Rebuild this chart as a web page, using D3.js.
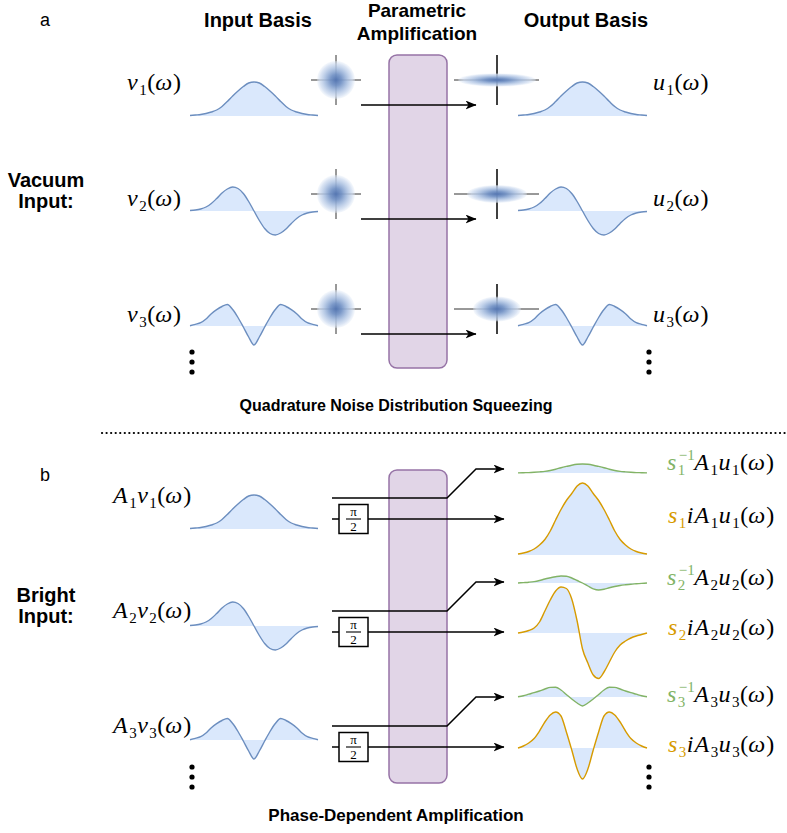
<!DOCTYPE html>
<html>
<head>
<meta charset="utf-8">
<script src="https://cdn.jsdelivr.net/npm/d3@7"></script>
<style>
  body { margin: 0; background: #fff; }
  svg { display: block; }
</style>
</head>
<body>
<script>
// Frequency grid shared by every spectral mode
const omega = [-3, -2.75, -2.5, -2.25, -2, -1.75, -1.5, -1.25, -1, -0.75, -0.5, -0.25, 0,
               0.25, 0.5, 0.75, 1, 1.25, 1.5, 1.75, 2, 2.25, 2.5, 2.75, 3];

// Input / output basis modes (amplitude, arbitrary units)
const mode1 = [0.5, 1, 1.5, 2.5, 4, 6, 9.5, 14.5, 20, 25, 29.5, 33, 34, 33, 29.5, 25, 20, 14.5, 9.5, 6, 4, 2.5, 1.5, 1, 0.5];
const mode2 = [0.5, 1, 2, 4, 7.5, 12.5, 18, 22, 24, 22.5, 17.5, 9.5, 0, -9.5, -17.5, -22.5, -24, -22, -18, -12.5, -7.5, -4, -2, -1, -0.5];
const mode3 = [0.3, 1.7, 3.3, 7, 12.3, 16.3, 19.5, 21.5, 16.5, 8.5, -1, -11, -19, -11, -1, 8.5, 16.5, 21.5, 19.5, 16.3, 12.3, 7, 3.3, 1.7, 0.3];

// Bright input: de-amplified quadrature (s^-1) and amplified quadrature (s)
const deamp1 = [0.1, 0.3, 0.4, 0.7, 1.1, 1.6, 2.5, 3.8, 5.3, 6.6, 7.8, 8.7, 9, 8.7, 7.8, 6.6, 5.3, 3.8, 2.5, 1.6, 1.1, 0.7, 0.4, 0.3, 0.1];
const deamp2 = [0, 0.4, 0.8, 1.4, 2.5, 4, 5.2, 6.3, 7, 6.8, 5, 2.5, 0, -3, -5.8, -7, -6.3, -4.8, -3.5, -2.5, -1.8, -1.2, -0.8, -0.4, 0];
const deamp3 = [0.3, 1.2, 2.8, 4.3, 6, 8, 9.6, 9.8, 7, 2.5, -2, -6, -9, -6, -2, 2.5, 7, 9.8, 9.6, 8, 6, 4.3, 2.8, 1.2, 0.3];
const amp1 = [1, 2, 3.5, 6, 10, 15.5, 24, 35, 45.5, 54.5, 61.5, 69, 72, 69, 61.5, 54.5, 45.5, 35, 24, 15.5, 10, 6, 3.5, 2, 1];
const amp2 = [0, 1, 2.5, 5, 11, 22, 33, 42, 46, 44.5, 34, 12, -16, -30, -42, -45.5, -39, -29, -19, -12, -8, -5, -3, -1.5, 0];
const amp3 = [0, 2, 5, 9.5, 17, 26, 33, 36, 32, 16, -2, -21, -31, -21, -2, 16, 32, 36, 33, 26, 17, 9.5, 5, 2, 0];

// Quadrature noise widths after squeezing, relative to vacuum
const squeezeWidth = [2.05, 1.58, 1.26];
const squeezeHeight = [0.35, 0.47, 0.66];

// Text
const headers = ["Input Basis", "Output Basis"];
const ampHeader = ["Parametric", "Amplification"];
const captionA = "Quadrature Noise Distribution Squeezing";
const captionB = "Phase-Dependent Amplification";

const W = 787, H = 833;
const BLUE = "#6c8ebf", FILL = "#dae8fc", GREEN = "#82b366", ORANGE = "#d79b00";
const SANS = "'Liberation Sans', Arial, Helvetica, sans-serif";
const SERIF = "'Liberation Serif', 'Times New Roman', serif";

const svg = d3.select("body").append("svg").attr("width", W).attr("height", H);
const defs = svg.append("defs");

// soft Gaussian-looking noise blob
const grad = defs.append("radialGradient").attr("id", "noise");
[[0, "#5677b2", 1], [0.3, "#7594c6", 0.95], [0.6, "#a9bfe0", 0.88], [0.85, "#cfdcf0", 0.75], [1, "#e2ebf7", 0.35]]
  .forEach(([o, c, a]) => grad.append("stop").attr("offset", o).attr("stop-color", c).attr("stop-opacity", a));

defs.append("marker").attr("id", "arrow").attr("viewBox", "0 0 11 9")
  .attr("refX", 10.5).attr("refY", 4.5).attr("markerWidth", 11).attr("markerHeight", 9)
  .attr("markerUnits", "userSpaceOnUse").attr("orient", "auto")
  .append("path").attr("d", "M0,0 L11,4.5 L0,9 L3,4.5 Z").attr("fill", "#000");

// ---------- helpers ----------
function drawMode(values, x0, x1, base, stroke) {
  const x = d3.scaleLinear().domain(d3.extent(omega)).range([x0, x1]);
  const y = d3.scaleLinear().domain([0, 10]).range([base, base - 10]);
  const pts = omega.map((w, i) => [w, values[i]]);
  svg.append("path").datum(pts)
    .attr("d", d3.area().x(d => x(d[0])).y0(y(0)).y1(d => y(d[1])).curve(d3.curveMonotoneX))
    .attr("fill", FILL);
  svg.append("path").datum(pts)
    .attr("d", d3.line().x(d => x(d[0])).y(d => y(d[1])).curve(d3.curveMonotoneX))
    .attr("fill", "none").attr("stroke", stroke).attr("stroke-width", 1.4);
}

// Lays out a formula from tokens, measuring each piece as it goes
function formula(x, y, tokens) {
  const g = svg.append("g").attr("transform", `translate(${x},0)`);
  let cx = 0;
  const put = (s, px, py, size, italic, color) => {
    const t = g.append("text").attr("x", px).attr("y", py).text(s)
      .style("font-family", SERIF).style("font-size", size + "px")
      .style("font-style", italic ? "italic" : "normal").attr("fill", color || "#000");
    return t.node().getComputedTextLength();
  };
  tokens.forEach(tk => {
    if (tk.sub !== undefined || tk.sup !== undefined) {
      let w = 0;
      if (tk.sup !== undefined) w = Math.max(w, put(tk.sup, cx + 1.5, y - 10, 15, false, tk.color));
      if (tk.sub !== undefined) w = Math.max(w, put(tk.sub, cx + 0.5, y + 5, 15, false, tk.color));
      cx += w + 1;
    } else {
      cx += put(tk.t, cx, y, 24, tk.it, tk.color) + (tk.it ? 1 : 0);
    }
  });
  return g;
}
const fn = (sym, n) => [{ t: sym, it: true }, { sub: String(n) }, { t: "(" }, { t: "ω", it: true }, { t: ")" }];

function boldText(s, x, y, size, anchor) {
  svg.append("text").attr("x", x).attr("y", y).text(s)
    .style("font-family", SANS).style("font-weight", "bold").style("font-size", size + "px")
    .attr("text-anchor", anchor || "middle");
}
function vdots(x, y) {
  [0, 10, 20].forEach(d => svg.append("circle").attr("cx", x).attr("cy", y + d).attr("r", 2.6).attr("fill", "#000"));
}
function pumpBox(y0, y1) {
  svg.append("rect").attr("x", 389).attr("y", y0).attr("width", 58).attr("height", y1 - y0)
    .attr("rx", 8).attr("fill", "#e1d5e7").attr("stroke", "#9673a6").attr("stroke-width", 1.5);
}
function noise(cx, cy, sx, sy, hx0, hx1, output) {
  const r = 19;
  svg.append("line").attr("x1", hx0).attr("x2", hx1).attr("y1", cy).attr("y2", cy)
    .attr("stroke", "#333").attr("stroke-width", 1);
  svg.append("line").attr("x1", cx).attr("x2", cx).attr("y1", cy - 25).attr("y2", cy + 25)
    .attr("stroke", output ? "#000" : "#333").attr("stroke-width", output ? 1.5 : 1);
  svg.append("ellipse").attr("cx", cx).attr("cy", cy).attr("rx", r * sx).attr("ry", r * sy)
    .attr("fill", "url(#noise)");
}
const modes = [mode1, mode2, mode3];

// ---------- panel a ----------
svg.append("text").attr("x", 45).attr("y", 26).text("a")
  .style("font-family", SANS).style("font-size", "18px").attr("text-anchor", "middle");
boldText(headers[0], 258, 27, 20);
boldText(ampHeader[0], 417, 17, 19);
boldText(ampHeader[1], 417, 40, 19);
boldText(headers[1], 586, 27, 20);
boldText("Vacuum", 46, 187, 20);
boldText("Input:", 46, 208, 20);

pumpBox(55, 368);
const rowA = [
  { cy: 80, base: 116, label: 90 },
  { cy: 194, base: 211, label: 206 },
  { cy: 309, base: 326, label: 322 }
];
rowA.forEach((r, i) => {
  formula(127, r.label, fn("v", i + 1));
  formula(653, r.label, fn("u", i + 1));
  drawMode(modes[i], 190, 318, r.base, BLUE);
  drawMode(modes[i], 518, 647, r.base, BLUE);
  noise(336, r.cy, 1, 1, 311, 361, false);
  noise(497, r.cy, squeezeWidth[i], squeezeHeight[i], 454, 539, true);
  svg.append("line").attr("x1", 361).attr("x2", 476).attr("y1", r.cy + 25).attr("y2", r.cy + 25)
    .attr("stroke", "#000").attr("stroke-width", 1.5).attr("marker-end", "url(#arrow)");
});
vdots(192, 352);
vdots(649, 352);
boldText(captionA, 396, 411, 16);

svg.append("line").attr("x1", 102).attr("x2", 785).attr("y1", 433).attr("y2", 433)
  .attr("stroke", "#000").attr("stroke-width", 2.2).attr("stroke-linecap", "round")
  .attr("stroke-dasharray", "0.1,4.45");

// ---------- panel b ----------
svg.append("text").attr("x", 45).attr("y", 481).text("b")
  .style("font-family", SANS).style("font-size", "18px").attr("text-anchor", "middle");
boldText("Bright", 46, 602, 20);
boldText("Input:", 46, 623, 20);

pumpBox(470, 783);
const deamps = [deamp1, deamp2, deamp3], amps = [amp1, amp2, amp3];
const rowB = [
  { top: 498, inBase: 529, label: 503, gBase: 473, oBase: 555, gLab: 470, oLab: 523 },
  { top: 611, inBase: 626, label: 618, gBase: 583, oBase: 633, gLab: 585, oLab: 635 },
  { top: 726, inBase: 740, label: 733, gBase: 697, oBase: 748, gLab: 702, oLab: 752 }
];
rowB.forEach((r, i) => {
  const n = String(i + 1);
  const low = r.top + 21;
  formula(113, r.label, [{ t: "A", it: true }, { sub: n }, ...fn("v", n)]);
  drawMode(modes[i], 190, 318, r.inBase, BLUE);
  drawMode(deamps[i], 518, 647, r.gBase, GREEN);
  drawMode(amps[i], 518, 647, r.oBase, ORANGE);

  // undelayed path: folds up to the de-amplified quadrature
  svg.append("path").attr("d", `M332,${r.top} H447 L476,${r.top - 29} H504`)
    .attr("fill", "none").attr("stroke", "#000").attr("stroke-width", 1.5).attr("marker-end", "url(#arrow)");
  // path through the π/2 phase shifter
  svg.append("line").attr("x1", 332).attr("x2", 504).attr("y1", low).attr("y2", low)
    .attr("stroke", "#000").attr("stroke-width", 1.5).attr("marker-end", "url(#arrow)");
  svg.append("rect").attr("x", 339).attr("y", low - 14.5).attr("width", 29).attr("height", 29)
    .attr("fill", "#fff").attr("stroke", "#000").attr("stroke-width", 1.5);
  svg.append("text").attr("x", 353.5).attr("y", low - 3).text("π").attr("text-anchor", "middle")
    .style("font-family", SERIF).style("font-size", "13px");
  svg.append("line").attr("x1", 346).attr("x2", 361).attr("y1", low).attr("y2", low)
    .attr("stroke", "#000").attr("stroke-width", 1.1);
  svg.append("text").attr("x", 353.5).attr("y", low + 11.5).text("2").attr("text-anchor", "middle")
    .style("font-family", SERIF).style("font-size", "13px");

  formula(667, r.gLab, [{ t: "s", it: true, color: GREEN }, { sup: "−1", sub: n, color: GREEN },
    { t: "A", it: true }, { sub: n }, ...fn("u", n)]);
  formula(668, r.oLab, [{ t: "s", it: true, color: ORANGE }, { sub: n, color: ORANGE },
    { t: "i", it: true }, { t: "A", it: true }, { sub: n }, ...fn("u", n)]);
});
vdots(192, 767);
vdots(649, 767);
boldText(captionB, 396, 821, 17);
</script>
</body>
</html>
